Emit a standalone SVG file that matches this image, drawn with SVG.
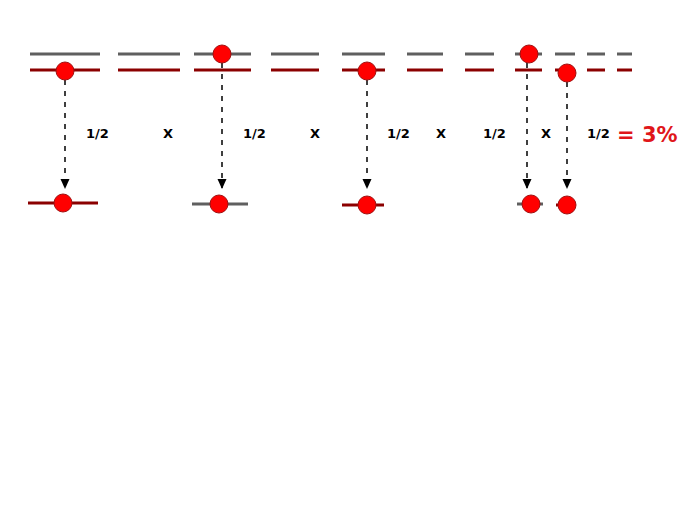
<svg xmlns="http://www.w3.org/2000/svg" width="689" height="517" viewBox="0 0 689 517">
<defs>
<style>
.g{stroke:#5f5f5f;stroke-width:3;fill:none}
.r{stroke:#8b0000;stroke-width:3;fill:none}
.b{fill:#ff0000;stroke:#a01010;stroke-width:1}
.a{stroke:#000;stroke-width:1.5;stroke-dasharray:5 6;fill:none}
.t{font-family:"DejaVu Sans",Verdana,sans-serif;font-size:13px;font-weight:bold;fill:#000}
.p{font-family:"DejaVu Sans",Verdana,sans-serif;font-size:21px;font-weight:bold;fill:#e0161a}
</style>
<marker id="ah" markerWidth="10" markerHeight="10" refX="9" refY="5" orient="auto" markerUnits="userSpaceOnUse">
<path d="M0,0.5 L10,5 L0,9.5 z" fill="#000"/>
</marker>
</defs>
<rect width="689" height="517" fill="#fff"/>
<g id="connectors">
<line class="a" x1="65" y1="80" x2="65" y2="188" marker-end="url(#ah)"/>
<line class="a" x1="222" y1="63" x2="222" y2="188" marker-end="url(#ah)"/>
<line class="a" x1="367" y1="80" x2="367" y2="188" marker-end="url(#ah)"/>
<line class="a" x1="527" y1="63" x2="527" y2="188" marker-end="url(#ah)"/>
<line class="a" x1="567" y1="82" x2="567" y2="188" marker-end="url(#ah)"/>
</g>
<g id="top-levels">
<line class="g" x1="30" y1="54" x2="100" y2="54"/><line class="r" x1="30" y1="70" x2="100" y2="70"/>
<line class="g" x1="118" y1="54" x2="180" y2="54"/><line class="r" x1="118" y1="70" x2="180" y2="70"/>
<line class="g" x1="194" y1="54" x2="251" y2="54"/><line class="r" x1="194" y1="70" x2="251" y2="70"/>
<line class="g" x1="271" y1="54" x2="319" y2="54"/><line class="r" x1="271" y1="70" x2="319" y2="70"/>
<line class="g" x1="342" y1="54" x2="385" y2="54"/><line class="r" x1="342" y1="70" x2="385" y2="70"/>
<line class="g" x1="407" y1="54" x2="443" y2="54"/><line class="r" x1="407" y1="70" x2="443" y2="70"/>
<line class="g" x1="465" y1="54" x2="494" y2="54"/><line class="r" x1="465" y1="70" x2="494" y2="70"/>
<line class="g" x1="515" y1="54" x2="542" y2="54"/><line class="r" x1="515" y1="70" x2="542" y2="70"/>
<line class="g" x1="555" y1="54" x2="575" y2="54"/><line class="r" x1="555" y1="70" x2="575" y2="70"/>
<line class="g" x1="587" y1="54" x2="605" y2="54"/><line class="r" x1="587" y1="70" x2="605" y2="70"/>
<line class="g" x1="617" y1="54" x2="632" y2="54"/><line class="r" x1="617" y1="70" x2="632" y2="70"/>
</g>
<g id="top-balls">
<circle class="b" cx="65" cy="71" r="9"/>
<circle class="b" cx="222" cy="54" r="9"/>
<circle class="b" cx="367" cy="71" r="9"/>
<circle class="b" cx="529" cy="54" r="9"/>
<circle class="b" cx="567" cy="73" r="9"/>
</g>
<g id="bottom-1"><line class="r" x1="28" y1="203" x2="98" y2="203"/><circle class="b" cx="63" cy="203" r="9"/></g>
<g id="bottom-2"><line class="g" x1="192" y1="204" x2="248" y2="204"/><circle class="b" cx="219" cy="204" r="9"/></g>
<g id="bottom-3"><line class="r" x1="342" y1="205" x2="384" y2="205"/><circle class="b" cx="367" cy="205" r="9"/></g>
<g id="bottom-4"><line class="g" x1="517" y1="204" x2="543" y2="204"/><circle class="b" cx="531" cy="204" r="9"/></g>
<g id="bottom-5"><line class="r" x1="556" y1="205" x2="575" y2="205"/><circle class="b" cx="567" cy="205" r="9"/></g>
<g id="labels">
<text class="t" x="86" y="138">1/2</text>
<text class="t" x="163" y="138">X</text>
<text class="t" x="243" y="138">1/2</text>
<text class="t" x="310" y="138">X</text>
<text class="t" x="387" y="138">1/2</text>
<text class="t" x="436" y="138">X</text>
<text class="t" x="483" y="138">1/2</text>
<text class="t" x="541" y="138">X</text>
<text class="t" x="587" y="138">1/2</text>
<text class="p" x="617" y="142">= 3%</text>
</g>
</svg>
